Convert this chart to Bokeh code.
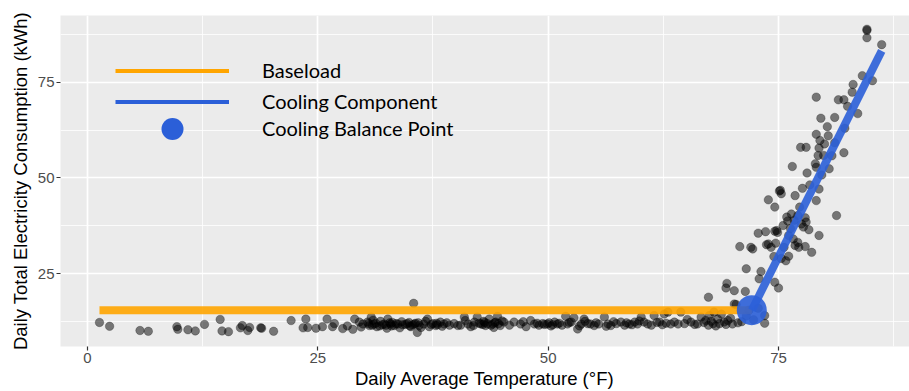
import numpy as np
from bokeh.plotting import figure
from bokeh.models import ColumnDataSource, FixedTicker, Legend, LegendItem, Range1d
from bokeh.embed import file_html
from bokeh.resources import INLINE

# Daily observations: average outdoor temperature (°F) and total electricity use (kWh)
winter_temp = [1.3, 2.4, 5.7, 6.6, 9.7, 9.8, 10.9, 11.7, 12.7, 14.4, 14.6, 15.3, 16.6,
               16.8, 17.4, 17.6, 18.8, 18.9, 20.2, 22.1, 23.4, 23.7, 23.9]
winter_kwh = [12.3, 11.3, 10.2, 10.0, 11.2, 10.5, 10.4, 10.1, 11.8, 13.1, 10.1, 9.9, 10.9,
              11.5, 10.2, 11.0, 10.9, 10.8, 10.0, 12.8, 10.9, 13.2, 11.0]

spring_temp = [24.8, 25.5, 26.0, 26.6, 26.8, 27.7, 28.8, 29.0, 29.5, 29.9, 30.4, 30.6,
               30.8, 31.1, 31.4, 31.8, 32.2, 32.5, 32.6, 32.9, 33.3, 33.7, 34.2, 34.7,
               35.1, 35.4, 35.5, 35.8, 36.0, 36.5, 36.9, 37.1, 37.5, 37.8, 38.3, 38.7,
               39.3, 39.8, 40.2, 40.9, 41.3, 41.6, 42.0, 42.3, 42.7, 43.0, 43.2, 43.6,
               44.0, 44.3, 44.5, 44.8, 45.2, 30.5, 30.9, 31.3, 32.4, 32.8, 33.0, 33.5,
               34.5, 34.9, 35.3, 35.6, 37.3, 37.9, 38.0, 42.5, 42.9, 43.4, 43.8, 44.2, 44.6,
               29.7, 31.0, 31.7, 32.0, 33.1, 33.9, 34.1, 35.0, 35.9, 36.2, 36.7, 38.5,
               39.0, 40.5, 41.0, 41.9, 43.1, 44.1, 45.0, 28.2]
spring_kwh = [10.8, 11.2, 13.2, 11.2, 12.0, 10.7, 10.5, 13.2, 12.4, 11.9, 12.4, 11.5,
              13.7, 11.9, 11.2, 12.6, 11.9, 10.8, 13.2, 11.9, 11.5, 11.9, 11.7, 12.0,
              11.2, 17.3, 11.9, 9.7, 11.5, 11.9, 13.2, 11.2, 12.0, 11.5, 12.4, 11.9,
              11.6, 12.0, 11.5, 13.7, 11.9, 11.2, 12.4, 13.7, 11.9, 12.6, 11.5, 13.2,
              11.9, 12.4, 13.9, 11.5, 12.4, 12.0, 11.6, 12.1, 11.6, 12.2, 11.4, 12.0,
              11.8, 12.3, 11.7, 12.1, 11.8, 12.1, 11.7, 12.1, 11.8, 12.0, 11.6, 12.2, 12.0,
              11.1, 12.9, 11.4, 11.7, 12.3, 10.9, 12.5, 11.4, 12.2, 11.0, 12.6, 11.3,
              12.2, 11.6, 12.8, 11.5, 12.3, 11.0, 12.7, 11.4]

late_temp = [46.3, 47.0, 47.6, 48.1, 48.5, 49.0, 49.4, 49.9, 50.3, 50.7, 51.0, 51.5,
             51.9, 52.1, 52.5, 52.8, 53.2, 53.6, 53.9, 54.3, 54.6, 55.0, 55.5, 56.1,
             56.5, 56.8, 57.4, 57.9, 58.3, 58.8, 59.4, 59.7, 60.1, 60.4, 60.8, 61.5,
             62.1, 62.4, 62.6, 63.0, 63.3, 63.7, 64.1, 64.4, 65.5, 66.2, 66.6, 67.1,
             67.5, 67.9, 68.0, 68.4, 68.8, 69.1, 69.5, 70.0, 70.2, 48.8, 49.6, 50.1,
             51.2, 55.2, 58.5, 59.1, 62.8, 66.9, 67.4, 68.6, 69.3, 71.0, 71.5, 72.3,
             72.8, 73.5, 73.5, 71.8, 45.8, 47.3, 50.5, 52.3, 53.4, 54.0, 56.3, 57.1,
             59.9, 61.2, 61.8, 64.8, 65.1, 65.9, 67.7, 68.2, 69.8, 70.6]
late_kwh = [12.4, 11.9, 11.2, 12.8, 11.9, 11.6, 12.0, 11.9, 11.4, 12.4, 11.9, 11.6,
            13.9, 11.9, 12.4, 13.5, 10.6, 11.9, 13.2, 12.0, 11.9, 11.5, 11.9, 13.7,
            11.9, 11.5, 12.0, 12.4, 11.6, 11.9, 12.4, 11.9, 13.7, 12.4, 11.9, 14.1,
            12.4, 11.7, 14.5, 15.0, 11.9, 12.4, 11.9, 15.0, 12.4, 11.9, 13.7, 12.8,
            14.1, 12.0, 15.0, 13.2, 14.5, 12.4, 12.8, 11.9, 17.1, 12.1, 11.8, 12.2,
            12.1, 12.2, 12.2, 11.7, 12.1, 12.3, 11.6, 12.0, 11.8, 12.5, 14.0, 13.0,
            16.0, 14.1, 12.1, 15.5, 11.6, 12.5, 11.7, 12.3, 11.4, 12.6, 11.3, 12.5,
            12.7, 11.6, 12.3, 12.0, 13.1, 11.8, 12.6, 11.4, 13.4, 12.2]

summer_temp = [67.4, 70.4, 69.4, 69.3, 70.2, 71.4, 71.5, 73.1, 72.9, 74.6, 75.0,
               70.8, 72.0, 72.2, 73.7, 74.2, 73.9, 74.7, 75.6, 76.8, 77.2, 77.9, 78.6,
               74.5, 75.3, 75.8, 76.1, 76.6, 77.1, 72.8, 73.6, 74.6, 74.9, 79.4, 76.1,
               74.8, 75.5, 77.7, 78.0, 75.9, 77.1, 77.9, 81.3, 76.4, 74.6, 77.3, 79.1,
               73.9, 75.1, 75.2, 75.3, 76.8, 77.6, 78.4, 79.4, 76.5, 79.0, 79.1, 80.5,
               78.1, 79.7, 79.3, 79.9, 80.8, 82.1, 77.4, 78.0, 79.4, 79.5, 80.0, 81.1,
               79.1, 80.4, 80.3, 82.2, 79.6, 81.1, 83.6, 82.5, 81.5, 82.1, 79.1, 83.0,
               83.1, 85.2, 84.1, 86.2, 84.6, 84.6, 84.6, 76.0, 76.7, 77.5, 78.3, 76.3]
summer_kwh = [18.9, 17.0, 22.5, 21.3, 20.6, 20.4, 26.3, 25.6, 23.7, 22.8, 21.3,
              32.1, 31.9, 31.5, 32.6, 31.9, 32.8, 33.0, 31.9, 32.4, 31.9, 32.1, 30.6,
              29.5, 29.0, 28.4, 29.6, 34.1, 33.2, 35.6, 36.0, 36.1, 35.8, 35.0, 35.0,
              36.3, 37.6, 37.2, 38.5, 39.8, 40.2, 39.6, 40.2, 40.6, 42.4, 42.4, 44.1,
              44.3, 46.6, 46.8, 45.9, 45.4, 47.3, 48.2, 47.1, 53.0, 53.7, 52.8, 52.4,
              51.3, 50.8, 55.9, 55.9, 55.8, 56.6, 58.0, 58.0, 57.8, 59.8, 58.9, 59.2,
              61.4, 61.0, 63.4, 63.0, 65.6, 65.8, 66.8, 68.7, 70.4, 70.4, 71.1, 72.4,
              74.4, 75.4, 76.7, 84.8, 86.6, 88.5, 88.8, 38.8, 39.0, 38.0, 36.5, 36.8]

# Fitted change-point model
baseload_kwh = 15.5
balance_temp = 72.1
cooling_slope = 4.8          # kWh per °F above the balance point
temp_min, temp_max = 1.3, 86.2

x_ticks = [0, 25, 50, 75]
y_ticks = [25, 50, 75]

temps = np.array(winter_temp + spring_temp + late_temp + summer_temp)
kwh = np.array(winter_kwh + spring_kwh + late_kwh + summer_kwh)
obs = ColumnDataSource(dict(t=temps, k=kwh))

base_src = ColumnDataSource(dict(t=[temp_min, balance_temp],
                                 k=[baseload_kwh, baseload_kwh]))
cool_src = ColumnDataSource(dict(t=[balance_temp, temp_max],
                                 k=[baseload_kwh,
                                    baseload_kwh + cooling_slope * (temp_max - balance_temp)]))
bp_src = ColumnDataSource(dict(t=[balance_temp], k=[baseload_kwh]))

ORANGE = "#FFA500"
BLUE = "#2B5FD8"
AXIS_FONT = "Liberation Sans"

p = figure(width=909, height=391,
           x_range=Range1d(-2.93, 89.22), y_range=Range1d(6.03, 92.4),
           output_backend="svg", toolbar_location=None,
           min_border_left=60, min_border_right=0,
           min_border_top=15, min_border_bottom=45)
p.background_fill_color = "#EBEBEB"
p.border_fill_color = "white"
p.outline_line_color = None

p.xaxis.ticker = FixedTicker(ticks=x_ticks, minor_ticks=[-12.5, 12.5, 37.5, 62.5, 87.5])
p.yaxis.ticker = FixedTicker(ticks=y_ticks, minor_ticks=[12.5, 37.5, 62.5, 87.5])
p.grid.grid_line_color = "white"
p.grid.grid_line_width = 1.7
p.grid.minor_grid_line_color = "white"
p.grid.minor_grid_line_width = 0.8

p.axis.axis_line_color = None
p.axis.major_tick_line_color = "#333333"
p.axis.major_tick_line_width = 1.2
p.axis.major_tick_in = 0
p.axis.major_tick_out = 4
p.axis.minor_tick_line_color = None
p.axis.major_label_text_color = "#4D4D4D"
p.axis.major_label_text_font = AXIS_FONT
p.axis.major_label_text_font_size = "15px"
p.axis.major_label_standoff = 2
p.axis.axis_label_text_font = AXIS_FONT
p.axis.axis_label_text_font_size = "18.5px"
p.axis.axis_label_text_font_style = "normal"
p.axis.axis_label_text_color = "black"
p.axis.axis_label_standoff = 2
p.yaxis.axis_label_standoff = 4
p.xaxis.axis_label = "Daily Average Temperature (°F)"
p.yaxis.axis_label = "Daily Total Electricity Consumption (kWh)"

# observations
p.scatter("t", "k", source=obs, size=8.5, fill_color="black", fill_alpha=0.5,
          line_color="black", line_alpha=0.5, line_width=0.5)

# model segments
p.line("t", "k", source=base_src, line_color=ORANGE, line_width=8, line_alpha=0.9)
p.line("t", "k", source=cool_src, line_color=BLUE, line_width=8, line_alpha=0.9,
       line_cap="butt")
p.scatter("t", "k", source=bp_src, size=30, fill_color=BLUE, fill_alpha=0.9,
          line_color=None)

# thinner key glyphs for the legend
key_base = p.line("t", "k", source=base_src, line_color=ORANGE, line_width=4, visible=False)
key_cool = p.line("t", "k", source=cool_src, line_color=BLUE, line_width=4, visible=False)
key_bp = p.scatter("t", "k", source=bp_src, size=22, fill_color=BLUE, line_color=None,
                   visible=False)

legend_style = dict(glyph_width=114, label_standoff=33, spacing=0, padding=0, margin=0,
                    border_line_color=None, background_fill_alpha=0,
                    label_text_font="Lato", label_text_font_size="20px",
                    label_text_color="black")
lines_legend = Legend(items=[LegendItem(label="Baseload", renderers=[key_base]),
                             LegendItem(label="Cooling Component", renderers=[key_cool])],
                     location=(55, 229.5), glyph_height=31, **legend_style)
point_legend = Legend(items=[LegendItem(label="Cooling Balance Point", renderers=[key_bp])],
                      location=(55, 190.5), glyph_height=55, **legend_style)
p.add_layout(lines_legend)
p.add_layout(point_legend)

open("out.html", "w").write(file_html(p, INLINE))
